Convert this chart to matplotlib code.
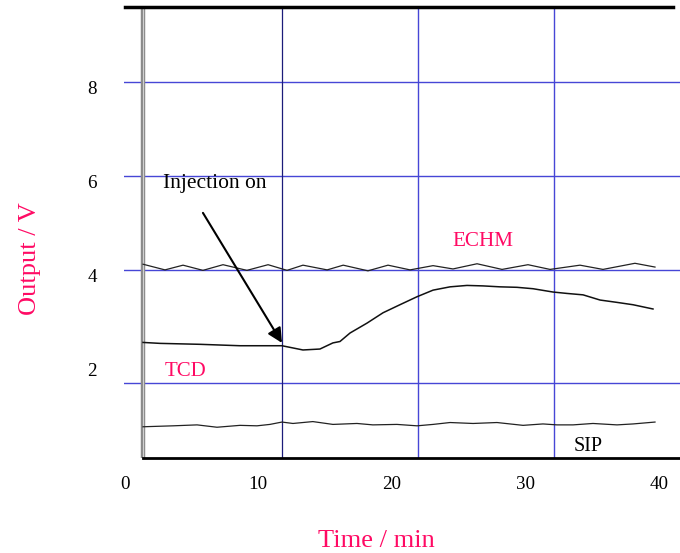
import matplotlib
matplotlib.use("Agg")
import matplotlib.pyplot as plt

plt.rcParams['font.family'] = ['Liberation Serif', 'DejaVu Serif']

PINK = '#ff0a64'
BLUE = '#4646d6'

# ---------------- data ----------------
echm_t = [1.38, 3.02, 4.37, 5.86, 7.36, 9.15, 10.73, 12.15, 13.34, 15.15, 16.35, 18.2,
          19.7, 21.35, 23.07, 24.56, 26.36, 28.23, 30.17, 31.82, 34.06, 35.78, 38.17, 39.67]
echm_v = [4.24, 4.12, 4.22, 4.11, 4.23, 4.11, 4.23, 4.11, 4.22, 4.12, 4.22, 4.10,
          4.22, 4.12, 4.21, 4.14, 4.25, 4.13, 4.23, 4.13, 4.22, 4.13, 4.26, 4.18]

tcd_t = [1.38, 2.65, 5.64, 8.63, 11.77, 13.34, 14.61, 15.58, 16.11, 16.86, 18.13, 19.33,
         20.59, 21.87, 23.07, 24.34, 25.61, 26.8, 28.08, 29.35, 30.55, 32.04, 33.09, 34.29,
         35.56, 36.83, 38.03, 39.52]
tcd_v = [2.58, 2.56, 2.54, 2.51, 2.51, 2.42, 2.44, 2.57, 2.60, 2.78, 2.99, 3.21,
         3.38, 3.55, 3.69, 3.76, 3.79, 3.78, 3.76, 3.75, 3.72, 3.65, 3.62, 3.59,
         3.48, 3.43, 3.38, 3.29]

sip_t = [1.38, 3.62, 5.42, 6.91, 8.63, 9.9, 10.87, 11.77, 12.59, 14.08, 15.58, 17.38,
         18.57, 20.37, 21.87, 23.07, 24.34, 26.06, 27.85, 29.8, 31.29, 32.34, 33.54, 35.03,
         36.83, 38.03, 39.67]
sip_v = [0.79, 0.81, 0.83, 0.78, 0.82, 0.81, 0.84, 0.89, 0.86, 0.90, 0.84, 0.86,
         0.83, 0.84, 0.81, 0.84, 0.88, 0.86, 0.88, 0.82, 0.85, 0.83, 0.83, 0.86,
         0.83, 0.85, 0.89]

x_ticks = [0, 10, 20, 30, 40]
y_ticks = [2, 4, 6, 8]
v_grid = [11.77, 21.95, 32.12]
h_grid = [8.11, 6.11, 4.12, 1.72]
injection_t = 11.77

# ---------------- figure ----------------
fig = plt.figure(figsize=(6.8, 5.53), dpi=100)
ax = fig.add_axes([124 / 680, 95 / 553, 556 / 680, 451 / 553])
ax.set_xlim(-0.045, 41.54)
ax.set_ylim(0.127, 9.70)

for y in h_grid:
    ax.axhline(y, color=BLUE, lw=1.0, zorder=1)
ax.axvline(v_grid[0], color='#1c1c7a', lw=0.9, zorder=1)
for x in v_grid[1:]:
    ax.axvline(x, color=BLUE, lw=1.0, zorder=1)

# left frame line (grey double line)
ax.axvline(1.38, color='#8a8a8a', lw=3.2, zorder=2)
ax.axvline(1.38, color='#d0d0d0', lw=0.8, zorder=2)

ax.plot(echm_t, echm_v, color='#222222', lw=0.9, zorder=3)
ax.plot(tcd_t, tcd_v, color='#111111', lw=1.1, zorder=3)
ax.plot(sip_t, sip_v, color='#222222', lw=0.9, zorder=3)

for s in ['left', 'right']:
    ax.spines[s].set_visible(False)
ax.spines['top'].set_linewidth(2.5)
ax.spines['top'].set_bounds(0.03, 40.99)
ax.spines['bottom'].set_linewidth(2.0)
ax.spines['bottom'].set_bounds(1.38, 41.54)

ax.set_xticks(x_ticks)
ax.set_yticks(y_ticks)
ax.tick_params(axis='x', length=0, pad=13, labelsize=13.7)
ax.tick_params(axis='y', length=0, pad=19.5, labelsize=13.7)

ax.text(2.87, 5.86, 'Injection on', fontsize=15.5, va='baseline')
ax.annotate('', xy=(injection_t, 2.57), xytext=(5.86, 5.33),
            arrowprops=dict(arrowstyle='-|>', color='black', lw=1.5,
                            mutation_scale=22, shrinkA=0, shrinkB=0))
ax.text(26.81, 4.63, 'ECHM', color=PINK, fontsize=15.2, ha='center', va='baseline')
ax.text(3.02, 1.87, 'TCD', color=PINK, fontsize=15, va='baseline')
ax.text(33.61, 0.28, 'SIP', color='black', fontsize=14.5, va='baseline')

fig.text(376 / 680, 1 - 541 / 553, 'Time / min', color=PINK, fontsize=19,
         ha='center', va='center')
fig.text(30 / 680, 1 - 259 / 553, 'Output / V', color=PINK, fontsize=19,
         ha='center', va='center', rotation=90)

fig.savefig('out.png', dpi=100)
